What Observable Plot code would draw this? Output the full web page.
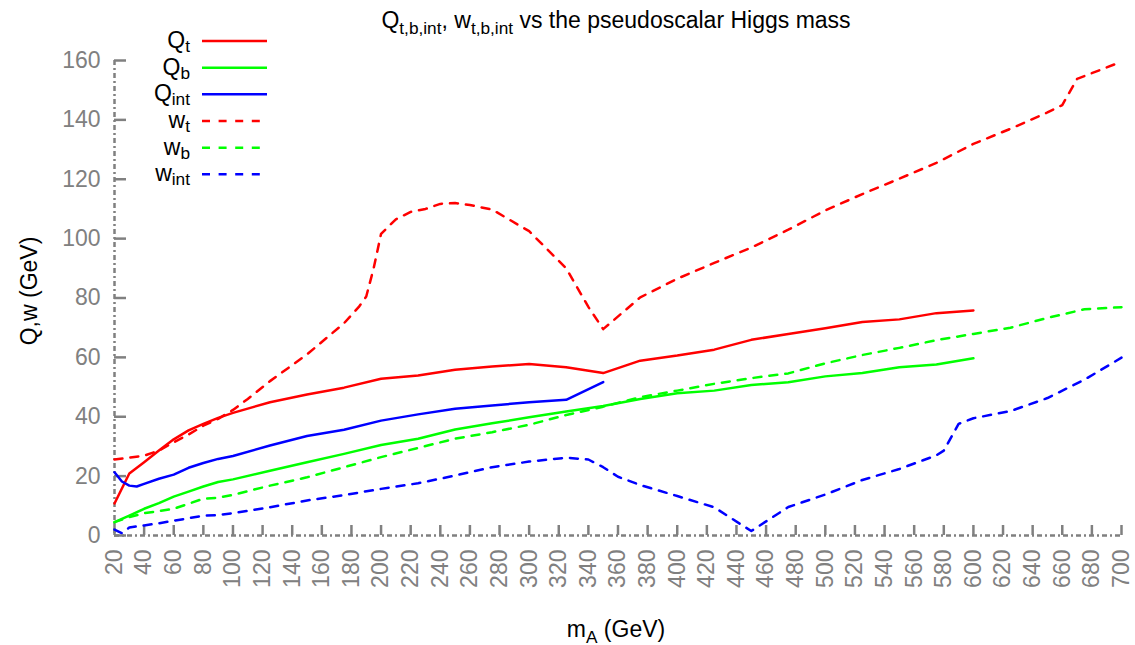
<!DOCTYPE html>
<html>
<head>
<meta charset="utf-8">
<script src="https://cdn.jsdelivr.net/npm/d3@7"></script>
<script src="https://cdn.jsdelivr.net/npm/@observablehq/plot@0.6"></script>
<style>
  html, body { margin: 0; padding: 0; background: #fff; }
  #chart svg { display: block; }
</style>
</head>
<body>
<div id="chart"></div>
<script>
// ---- Data ----
const xTicks = [20,40,60,80,100,120,140,160,180,200,220,240,260,280,300,320,340,360,380,400,420,440,460,480,500,520,540,560,580,600,620,640,660,680,700];
const yTicks = [0,20,40,60,80,100,120,140,160];

const qtX = [20,30,40,50,60,70,80,90,100,125,150,175,200,225,250,275,300,325,350,375,400,425,450,475,500,525,550,575,600];
const qtY = [10.8,20.9,24.7,28.6,32.4,35.4,37.6,39.6,41.3,44.9,47.5,49.8,52.8,53.9,55.8,56.9,57.8,56.7,54.7,58.9,60.6,62.6,65.9,67.9,69.8,71.9,72.8,74.9,75.8];

const qbX = [20,30,40,50,60,70,80,90,100,125,150,175,200,225,250,275,300,325,350,375,400,425,450,475,500,525,550,575,600];
const qbY = [4.5,6.7,9,10.9,13.1,14.8,16.5,18,18.9,21.8,24.7,27.5,30.5,32.6,35.7,37.8,39.8,41.8,43.6,46,47.9,48.8,50.7,51.6,53.6,54.7,56.7,57.6,59.7];

const qiX = [20,25,30,35,40,50,60,70,80,90,100,125,150,175,200,225,250,275,300,325,350];
const qiY = [21.3,18.2,16.8,16.5,17.4,19.1,20.5,22.8,24.4,25.8,26.8,30.3,33.5,35.6,38.7,40.8,42.7,43.8,44.9,45.7,51.7];

const wtX = [20,30,40,50,60,70,80,90,100,110,125,150,175,185,190,195,200,210,220,230,240,250,260,275,300,325,340,350,375,400,425,450,475,500,525,550,575,600,625,650,660,670,700];
const wtY = [25.6,26.2,26.9,28.6,31.4,34,37,39.3,42.3,46,52,61,71.5,77,80.5,90,101.6,106.5,109,110,111.7,112,111.3,109.8,102.5,90,77,69.5,80.2,86.5,91.8,97,103,109.5,115,120.2,125.5,131.9,137,142.5,145,153.8,159.6];

const wbX = [20,30,40,50,60,70,80,90,100,125,150,175,200,225,250,275,300,325,350,375,400,425,450,475,500,525,550,575,600,625,650,675,700];
const wbY = [4.5,6.2,7.5,8.2,9,10.7,12.4,12.7,13.7,16.8,19.6,23,26.4,29.5,32.6,34.8,37.3,40.6,43.4,46.6,48.8,51.1,53,54.6,58,60.8,63.2,65.8,67.9,70,73.3,76.2,76.9];

const wiX = [20,25,30,40,50,60,70,80,90,100,125,150,175,200,225,250,275,300,325,340,350,360,375,400,425,450,475,500,525,550,575,580,590,600,625,650,675,700];
const wiY = [2,0.8,2.7,3.4,4.1,5,5.8,6.7,6.9,7.5,9.5,11.8,13.6,15.7,17.6,20.2,23,24.9,26.2,25.6,23,19.8,17,13.3,9.5,1.5,9.6,13.8,18.7,22.4,27,28.6,37.6,39.5,41.9,46.3,52.5,59.9];

const seriesNames = [["Q","t"],["Q","b"],["Q","int"],["w","t"],["w","b"],["w","int"]];
const seriesColors = ["#ff0000","#00ff00","#0000ff","#ff0000","#00ff00","#0000ff"];
const seriesDashed = [false,false,false,true,true,true];
const seriesX = [qtX,qbX,qiX,wtX,wbX,wiX];
const seriesY = [qtY,qbY,qiY,wtY,wbY,wiY];

// ---- Build table ----
const rows = [];
seriesX.forEach((xs, s) => xs.forEach((x, i) => rows.push({s, x, y: seriesY[s][i]})));

const W = 1135, H = 645;
const mL = 114, mR = 14, mT = 60, mB = 110;
const frameW = W - mL - mR, frameH = H - mT - mB;
const axisGray = "#808080";
const dashAxis = "5,3,2,3";
const font = "'Liberation Sans', Arial, Helvetica, sans-serif";

const lineMarks = seriesX.map((_, s) => Plot.line(rows.filter(r => r.s === s), {
  x: "x", y: "y",
  stroke: seriesColors[s],
  strokeWidth: 2.5,
  strokeDasharray: seriesDashed[s] ? "8,8" : null
}));

const svg = Plot.plot({
  width: W, height: H,
  marginLeft: mL, marginRight: mR, marginTop: mT, marginBottom: mB,
  style: {fontFamily: font, fontSize: "23px", color: axisGray, background: "#fff", overflow: "visible"},
  x: {domain: [20, 700], label: null},
  y: {domain: [0, 160], label: null},
  marks: [
    Plot.ruleX([20], {stroke: axisGray, strokeWidth: 2.5, strokeDasharray: dashAxis}),
    Plot.ruleY([0], {stroke: axisGray, strokeWidth: 2.5, strokeDasharray: dashAxis}),
    Plot.tickX(xTicks, {x: d => d, stroke: axisGray, strokeWidth: 2.5, insetTop: frameH - 10}),
    Plot.tickY(yTicks, {y: d => d, stroke: axisGray, strokeWidth: 2.5, insetRight: frameW - 12}),
    Plot.axisX({ticks: xTicks, tickSize: 0, tickRotate: -90, tickPadding: 14, tickFormat: d => String(d), fill: axisGray}),
    Plot.axisY({ticks: yTicks, tickSize: 0, tickPadding: 14, tickFormat: d => String(d), fill: axisGray}),
    ...lineMarks
  ]
});
document.getElementById("chart").append(svg);

// ---- Texts with subscripts ----
const root = d3.select(svg);
function richText(sel, parts, shift = 6) {
  let shifted = false;
  parts.forEach(([t, sub]) => {
    const ts = sel.append("tspan").text(t);
    if (sub && !shifted) { ts.attr("dy", shift).attr("font-size", "75%"); shifted = true; }
    else if (sub) { ts.attr("font-size", "75%"); }
    else if (!sub && shifted) { ts.attr("dy", -shift); shifted = false; }
  });
}
const txt = root.append("g").attr("fill", "#000").attr("font-family", font).attr("font-size", 23);

const title = txt.append("text").attr("x", 616).attr("y", 28).attr("text-anchor", "middle");
richText(title, [["Q",0],["t,b,int",1],[", w",0],["t,b,int",1],[" vs the pseudoscalar Higgs mass",0]]);

const xl = txt.append("text").attr("x", 616).attr("y", 637).attr("text-anchor", "middle");
richText(xl, [["m",0],["A",1],[" (GeV)",0]]);

txt.append("text").attr("transform", "translate(29,291) rotate(-90)").attr("text-anchor", "middle")
  .attr("dy", "0.35em").text("Q,w (GeV)");

// ---- Legend ----
const legY = [41, 67.7, 94.3, 121, 147.7, 174.3];
const leg = root.append("g").attr("font-family", font).attr("font-size", 23);
seriesNames.forEach(([m, sub], i) => {
  const t = leg.append("text").attr("x", 190).attr("y", legY[i]).attr("dy", "0.3em")
    .attr("text-anchor", "end").attr("fill", "#000");
  richText(t, [[m,0],[sub,1]], 4);
  leg.append("line").attr("x1", 202).attr("x2", 267).attr("y1", legY[i]).attr("y2", legY[i])
    .attr("stroke", seriesColors[i]).attr("stroke-width", 2.5)
    .attr("stroke-dasharray", seriesDashed[i] ? "8,8.6" : null);
});
</script>
</body>
</html>
